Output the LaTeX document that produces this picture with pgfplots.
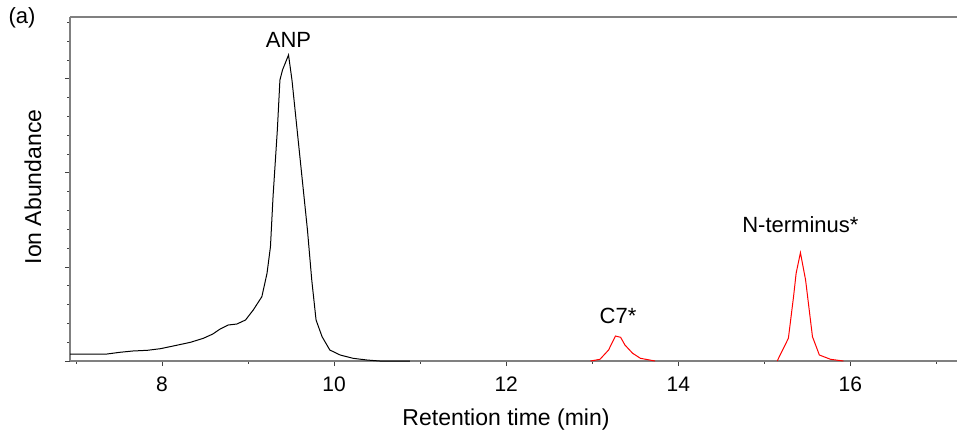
\documentclass[border=0pt]{standalone}
\usepackage{pgfplots}
\pgfplotsset{compat=1.18}
\usepackage{fontspec}
\setmainfont{Liberation Sans}
\begin{document}
\begin{tikzpicture}
\begin{axis}[
  at={(0,0)}, anchor=south west,
  width=443.5pt, height=172pt, scale only axis,
  xmin=6.93, xmax=17.24, ymin=0, ymax=344,
  axis lines*=left,
  axis line style={gray, line width=0.8pt, -},
  xtick={8,10,12,14,16}, minor xtick={7,9,11,13,15,17},
  ytick={0,94,188,282},
  minor ytick={18.8,37.6,56.4,75.2,112.8,131.6,150.4,169.2,206.8,225.6,244.4,263.2,300.8,319.6,338.4},
  yticklabels={},
  tick align=outside,
  major tick length=2.6pt, minor tick length=1.3pt,
  tick style={black!75, line width=0.5pt},
  /pgf/number format/assume math mode=true,
  xticklabel style={font=\fontsize{10.5}{12}\selectfont, yshift=-2pt},
  clip=false,
]
\addplot[black, line width=0.5pt] coordinates {
(6.93,7) (7.36,7) (7.51,8.7) (7.66,10) (7.83,10.7) (7.98,12.3) (8.13,15)
(8.33,18.7) (8.48,22.7) (8.59,27) (8.67,31.7) (8.77,36) (8.87,37) (8.97,41)
(9.06,51) (9.16,64.3) (9.22,87.7) (9.26,114.3) (9.29,164.3) (9.34,231)
(9.37,281) (9.40,291) (9.47,306) (9.51,281) (9.57,231) (9.63,181) (9.69,131)
(9.74,81) (9.79,41) (9.86,24.3) (9.95,11) (10.07,6) (10.22,2.7) (10.38,1)
(10.53,0) (10.88,0)
};
\addplot[red, line width=0.5pt] coordinates {
(12.98,0) (13.09,1.7) (13.19,11) (13.27,25) (13.33,23.7) (13.38,16)
(13.47,7.7) (13.56,2.7) (13.73,0)
};
\addplot[red, line width=0.5pt] coordinates {
(15.15,0) (15.28,22.7) (15.34,64.3) (15.37,87.7) (15.42,108.3) (15.48,81)
(15.56,24.3) (15.64,6) (15.77,1.7) (15.92,0)
};
\draw[gray, line width=0.8pt] (rel axis cs:0,1) -- (rel axis cs:1,1);
\node[font=\fontsize{11}{13}\selectfont] at (axis cs:9.47,321) {ANP};
\node[font=\fontsize{11}{13}\selectfont] at (axis cs:13.30,45) {C7*};
\node[font=\fontsize{11}{13}\selectfont] at (axis cs:15.42,136) {N-terminus*};
\end{axis}
\node[font=\fontsize{11}{13}\selectfont] at (-24pt,171.5pt) {(a)};
\node[font=\fontsize{11.5}{13}\selectfont, rotate=90] at (-18.5pt,87pt) {Ion Abundance};
\node[font=\fontsize{11.5}{13}\selectfont] at (218pt,-29.5pt) {Retention time (min)};
\pgfresetboundingbox
\path[use as bounding box] (-35pt,-39.5pt) rectangle (443.5pt,180.5pt);
\end{tikzpicture}
\end{document}
